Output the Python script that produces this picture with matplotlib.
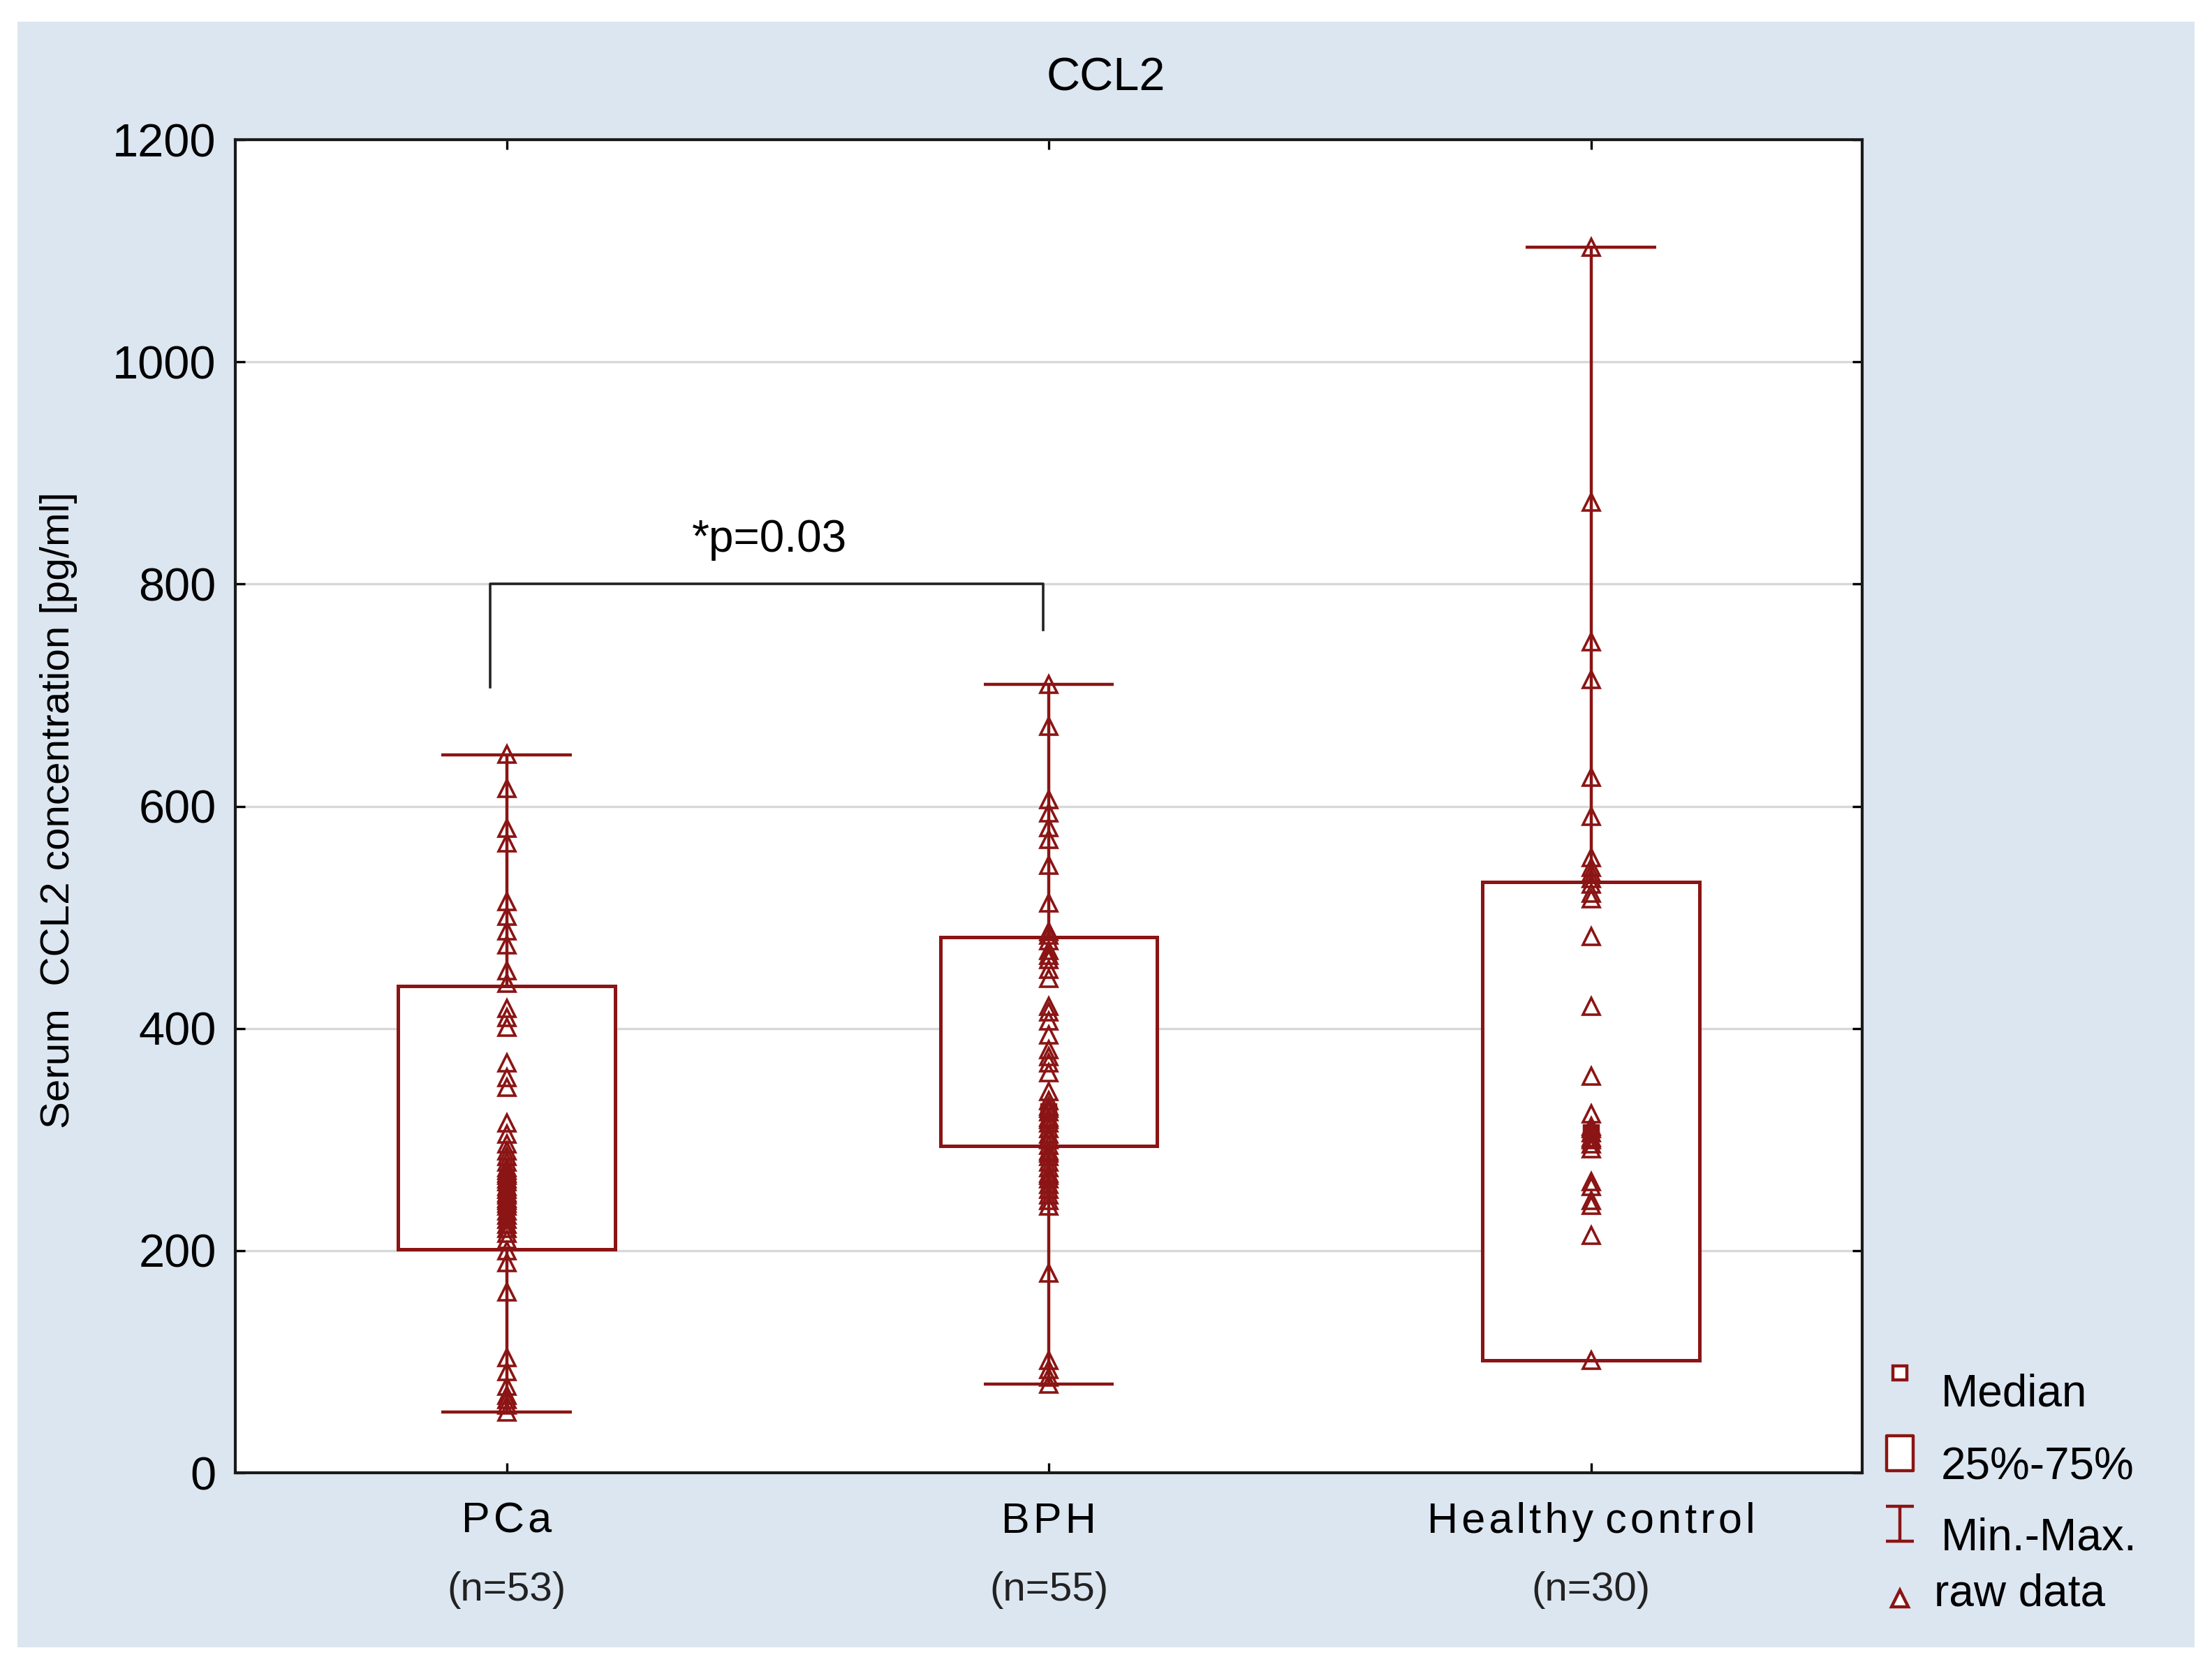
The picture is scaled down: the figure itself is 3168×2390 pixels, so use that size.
import matplotlib
matplotlib.use("Agg")
import matplotlib.pyplot as plt
from matplotlib.lines import Line2D
from matplotlib.patches import Rectangle
from matplotlib.path import Path
import numpy as np

plt.rcParams["font.family"] = ["Liberation Sans", "DejaVu Sans"]

RED = "#8b1414"

hs = "\u200a"
groups = [hs.join("PCa"), hs.join("BPH"),
          hs.join("Healthy") + " " + hs.join("control")]
n_labels = ["(n=53)", "(n=55)", "(n=30)"]

pca = [647, 616, 580, 567, 514, 501, 488, 475, 452, 441, 418, 410, 401, 369,
       356, 347, 315, 305, 296, 290, 285, 280, 275, 272, 270, 268, 265, 262,
       258, 255, 252, 250, 247, 245, 243, 240, 236, 232, 228, 224, 220, 216,
       210, 200, 189, 163, 104, 91, 78, 70, 66, 61, 55]
bph = [710, 672, 606, 594, 581, 570, 547, 513, 487, 484, 479, 470, 466, 462,
       453, 445, 420, 415, 407, 394, 381, 375, 369, 360, 343, 335, 330, 328,
       325, 320, 318, 315, 310, 305, 302, 300, 295, 290, 288, 285, 280, 275,
       270, 268, 265, 260, 255, 250, 245, 240, 180, 101, 93, 86, 80]
hc = [1103, 874, 748, 714, 626, 591, 554, 545, 540, 535, 530, 522, 517, 483,
      420, 357, 323, 312, 310, 306, 302, 300, 296, 292, 262, 258, 245, 241,
      214, 101]
raw = [pca, bph, hc]

medians = [258, 325, 306]
q1 = [201, 294, 101]
q3 = [438, 482, 532]
mins = [55, 80, 101]
maxs = [646, 710, 1103]

fig = plt.figure(figsize=(15.84, 11.95), dpi=200)
fig.patch.set_facecolor("white")
fig.add_artist(Rectangle((0.008, 0.013), 0.984, 0.974, transform=fig.transFigure,
                         facecolor="#dce6f1", edgecolor="none", zorder=0))

ax = fig.add_axes([0.1065, 0.1175, 0.7353, 0.7988])
ax.set_facecolor("white")

x = np.arange(len(groups)) + 0.5

ax.vlines(x, mins, maxs, color=RED, lw=1.6, zorder=2)
ax.hlines(mins, x - 0.12, x + 0.12, color=RED, lw=1.6, zorder=2)
ax.hlines(maxs, x - 0.12, x + 0.12, color=RED, lw=1.6, zorder=2)
ax.bar(x, np.array(q3) - np.array(q1), bottom=q1, width=0.4,
       facecolor="white", edgecolor=RED, lw=1.8, zorder=3)
for xi, vals in zip(x, raw):
    ax.plot([xi] * len(vals), vals, ls="none", marker="^", ms=8.5,
            mfc="none", mec=RED, mew=1.3, zorder=4)
ax.plot(x, medians, ls="none", marker="s", ms=7.5, mfc="none", mec=RED,
        mew=1.6, zorder=5)

# significance bracket
ax.plot([0.47, 0.47, 1.49, 1.49], [707, 800, 800, 759], color="#222222",
        lw=1.3, zorder=5)
ax.text(0.985, 840, "*p=0.03", ha="center", va="center", fontsize=23)

ax.set_xlim(0, 3)
ax.set_ylim(0, 1200)
ax.set_yticks(np.arange(0, 1201, 200))
ax.set_xticks(x)
ax.set_xticklabels(groups, fontsize=22)
ax.tick_params(axis="y", labelsize=24, pad=10)
ax.tick_params(axis="x", pad=15)
ax.tick_params(direction="in", top=True, right=True, length=5, width=1.2)
ax.yaxis.grid(True, color="#d8d8d8", lw=1.2)
ax.set_axisbelow(True)
for s in ax.spines.values():
    s.set_linewidth(1.5)
    s.set_color("#1a1a1a")

for xi, lab in zip(x, n_labels):
    ax.text(xi, -0.088, lab, transform=ax.get_xaxis_transform(),
            ha="center", va="center", fontsize=21, color="#222222")

fig.text(0.5, 0.953, "CCL2", ha="center", va="center", fontsize=24)
ax.set_ylabel("Serum  CCL2 concentration [pg/ml]", fontsize=21)
ax.yaxis.set_label_coords(-0.097, 0.497)

# legend
ibar = Path([(-0.8, -1), (0.8, -1), (0, -1), (0, 1), (-0.8, 1), (0.8, 1)],
            [Path.MOVETO, Path.LINETO, Path.MOVETO, Path.LINETO,
             Path.MOVETO, Path.LINETO])
rect = Path([(-0.38, -0.5), (0.38, -0.5), (0.38, 0.5), (-0.38, 0.5),
             (-0.38, -0.5)], closed=True)
leg = [("s", 7.5, 0.1775, "Median", 0.1648, 0.8776),
       (rect, 18, 0.1293, "25%-75%", 0.1209, 0.8776),
       (ibar, 18, 0.0871, "Min.-Max.", 0.0786, 0.8776),
       ("^", 8.5, 0.0423, "raw data", 0.0448, 0.8744)]
for mk, ms, my, txt, ty, tx in leg:
    fig.add_artist(Line2D([0.859], [my], transform=fig.transFigure,
                          marker=mk, ms=ms, mfc="white", mec=RED, mew=1.6,
                          ls="none"))
    fig.text(tx, ty, txt, ha="left", va="center", fontsize=23)

fig.savefig("out.png", dpi=200, facecolor=fig.get_facecolor())
